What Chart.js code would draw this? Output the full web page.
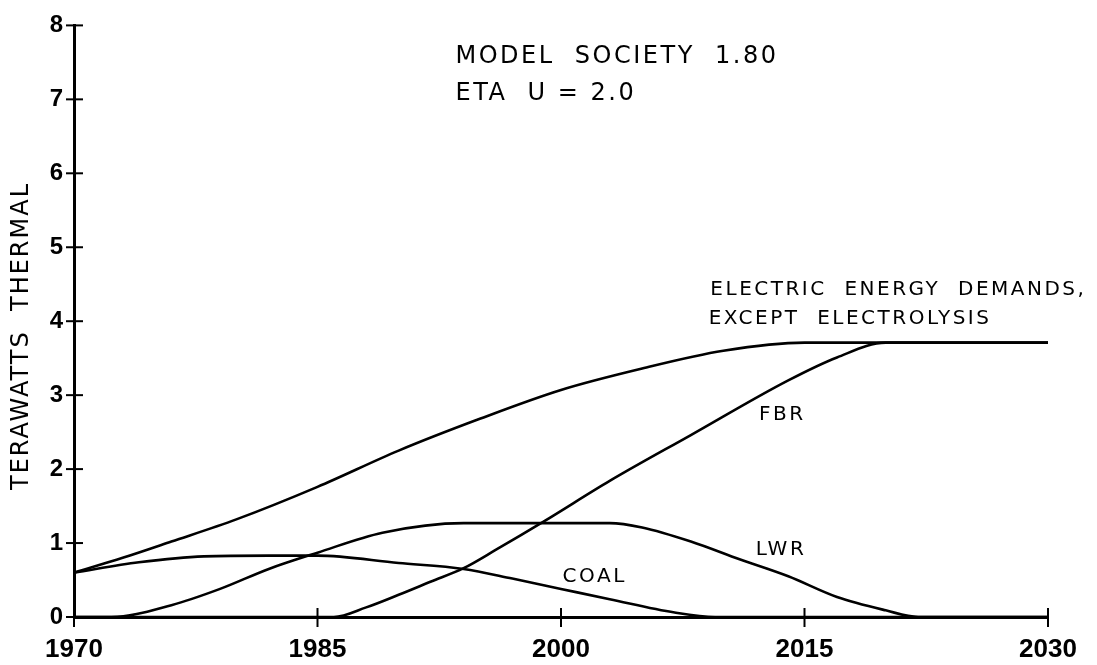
<!DOCTYPE html>
<html>
<head>
<meta charset="utf-8">
<title>Model Society 1.80 - Terawatts thermal</title>
<script src="https://cdn.jsdelivr.net/npm/chart.js@4.4.1/dist/chart.umd.min.js"></script>
<style>
  html, body { margin: 0; padding: 0; background: #fff; }
  #wrap { width: 1097px; height: 665px; position: relative; }
</style>
</head>
<body>
<div id="wrap"><canvas id="myChart"></canvas></div>
<script>
// electric energy demands (except electrolysis), TW thermal
const demandYears = [1970, 1973, 1976, 1980, 1985, 1990, 1995, 2000, 2005, 2010, 2015, 2030];
const demandTw = [0.6, 0.8, 1.02, 1.32, 1.76, 2.25, 2.68, 3.07, 3.36, 3.6, 3.71, 3.71];

// coal
const coalYears = [1970, 1974, 1978, 1982, 1985, 1990, 1994, 1997, 2000, 2003, 2007, 2009.5, 2030];
const coalTw = [0.6, 0.74, 0.82, 0.83, 0.83, 0.73, 0.65, 0.52, 0.38, 0.24, 0.06, 0, 0];

// light water reactors
const lwrYears = [1970, 1972.3, 1976, 1979, 1982, 1985, 1989, 1994, 2003, 2005, 2008, 2011, 2014, 2017, 2020, 2022, 2030];
const lwrTw = [0, 0, 0.16, 0.38, 0.65, 0.87, 1.14, 1.27, 1.27, 1.21, 1.02, 0.78, 0.55, 0.27, 0.09, 0, 0];

// fast breeder reactors
const fbrYears = [1970, 1986, 1988, 1990, 1992, 1994, 1996, 1999, 2003, 2008, 2014, 2017, 2020, 2030];
const fbrTw = [0, 0, 0.13, 0.3, 0.48, 0.66, 0.91, 1.3, 1.84, 2.46, 3.2, 3.51, 3.71, 3.71];

// axis ticks
const yearTicks = [1970, 1985, 2000, 2015, 2030];
const twTicks = [0, 1, 2, 3, 4, 5, 6, 7, 8];
const yTitle = "TERAWATTS  THERMAL";

// texts written on the plot (anchor = year, TW)
const noteTexts = ["MODEL  SOCIETY  1.80", "ETA  U = 2.0", "ELECTRIC  ENERGY  DEMANDS,", "EXCEPT  ELECTROLYSIS", "FBR", "LWR", "COAL"];
const noteYears = [1993.5, 1993.5, 2009.2, 2009.1, 2012.2, 2012.0, 2000.1];
const noteTw = [7.58, 7.07, 4.42, 4.03, 2.74, 0.91, 0.54];

function toPoints(xs, ys) {
  // builds {x, y} pairs for the linear x axis
  return xs.map((x, i) => ({ x: x, y: ys[i] }));
}

const lineStyle = {
  borderColor: "#000",
  borderWidth: 2.6,
  pointRadius: 0,
  fill: false,
  cubicInterpolationMode: "monotone",
};

const data = {
  datasets: [
    Object.assign({ label: "Demand", data: toPoints(demandYears, demandTw) }, lineStyle),
    Object.assign({ label: "COAL", data: toPoints(coalYears, coalTw) }, lineStyle),
    Object.assign({ label: "LWR", data: toPoints(lwrYears, lwrTw) }, lineStyle),
    Object.assign({ label: "FBR", data: toPoints(fbrYears, fbrTw) }, lineStyle),
  ],
};

// tick marks across the axes, y title and the notes
const notesPlugin = {
  id: "notes",
  afterDraw(chart) {
    const ctx = chart.ctx;
    const xs = chart.scales.x;
    const ys = chart.scales.y;
    ctx.save();
    ctx.strokeStyle = "#000";
    ctx.lineWidth = 2;
    twTicks.forEach((v) => {
      const py = ys.getPixelForValue(v);
      ctx.beginPath();
      ctx.moveTo(xs.left - 8, py);
      ctx.lineTo(xs.left + 9, py);
      ctx.stroke();
    });
    yearTicks.forEach((v) => {
      const px = xs.getPixelForValue(v);
      ctx.beginPath();
      ctx.moveTo(px, ys.bottom - 9);
      ctx.lineTo(px, ys.bottom + 10);
      ctx.stroke();
    });

    ctx.fillStyle = "#000";
    // y axis title, turned
    ctx.save();
    ctx.translate(22, ys.getPixelForValue(3.8));
    ctx.rotate(-Math.PI / 2);
    ctx.font = "24px 'DejaVu Sans'";
    ctx.letterSpacing = "2px";
    ctx.textAlign = "center";
    ctx.textBaseline = "middle";
    ctx.fillText(yTitle, 0, 0);
    ctx.restore();

    ctx.textAlign = "left";
    ctx.textBaseline = "middle";
    noteTexts.forEach((txt, i) => {
      ctx.font = i < 2 ? "24px 'DejaVu Sans'" : "20px 'DejaVu Sans'";
      ctx.letterSpacing = "2.5px";
      ctx.fillText(txt, xs.getPixelForValue(noteYears[i]), ys.getPixelForValue(noteTw[i]));
    });
    ctx.restore();
  },
};

const tickFont = { family: "'Liberation Sans', Arial, sans-serif", weight: "bold" };

const config = {
  type: "line",
  data: data,
  options: {
    responsive: true,
    maintainAspectRatio: false,
    animation: false,
    layout: { padding: { top: 20, right: 49, left: 0, bottom: 0 } },
    plugins: {
      legend: { display: false },
      tooltip: { enabled: false },
    },
    scales: {
      x: {
        type: "linear",
        min: yearTicks[0],
        max: yearTicks[yearTicks.length - 1],
        afterBuildTicks: (s) => { s.ticks = yearTicks.map((v) => ({ value: v })); },
        ticks: {
          callback: (v) => String(v), // no "1,970"
          color: "#000",
          font: Object.assign({ size: 26 }, tickFont),
          padding: 17,
          maxRotation: 0,
          autoSkip: false,
        },
        grid: { display: false, drawTicks: false },
        border: { display: true, color: "#000", width: 3 },
        afterFit: (s) => { s.height = 48; },
      },
      y: {
        min: twTicks[0],
        max: twTicks[twTicks.length - 1],
        afterBuildTicks: (s) => { s.ticks = twTicks.map((v) => ({ value: v })); },
        ticks: {
          color: "#000",
          font: Object.assign({ size: 24 }, tickFont),
          padding: 11,
        },
        grid: { display: false, drawTicks: false },
        border: { display: true, color: "#000", width: 3 },
        afterFit: (s) => { s.width = 74; },
      },
    },
  },
  plugins: [notesPlugin],
};

let context = document.getElementById("myChart").getContext("2d");
let chart = new Chart(context, config);
</script>
</body>
</html>
